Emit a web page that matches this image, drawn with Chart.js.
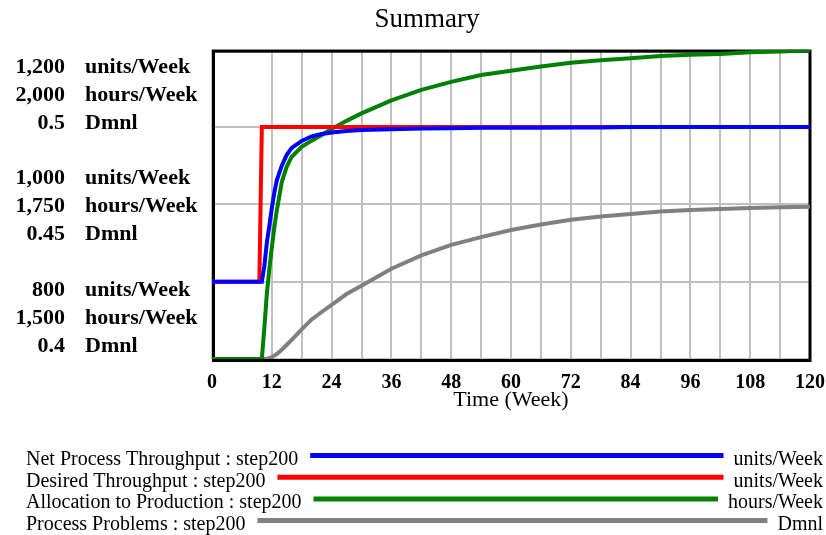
<!DOCTYPE html>
<html>
<head>
<meta charset="utf-8">
<title>Summary</title>
<script src="https://cdn.jsdelivr.net/npm/chart.js@4"></script>
<style>
  html, body { margin: 0; padding: 0; background: #fff; }
  #wrap { width: 826px; height: 535px; }
</style>
</head>
<body>
<div id="wrap"><canvas id="summaryChart" width="826" height="535"></canvas></div>
<script>
// time axis (weeks) and the four runs
const weeks = [0, 9.5, 9.75, 10, 10.5, 11, 11.5, 12, 12.5, 13, 14, 15, 16, 18, 20, 22, 24, 27, 30,
  36, 42, 48, 54, 60, 66, 72, 78, 84, 90, 96, 102, 108, 114, 120];
const netThroughput = [900, 900, 900, 900, 920, 950, 972, 995, 1015, 1031, 1050, 1064, 1073, 1082, 1088, 1091, 1093, 1095, 1096,
  1097, 1098, 1098.5, 1099, 1099, 1099.2, 1099.3, 1099.5, 1100, 1100, 1100, 1100, 1100, 1100, 1100];
const desiredThroughput = [900, 900, 1000, 1100, 1100, 1100, 1100, 1100, 1100, 1100, 1100, 1100, 1100, 1100, 1100, 1100, 1100, 1100, 1100,
  1100, 1100, 1100, 1100, 1100, 1100, 1100, 1100, 1100, 1100, 1100, 1100, 1100, 1100, 1100];
const allocation = [1500, 1500, 1500, 1500, 1550, 1605, 1645, 1680, 1712, 1740, 1786, 1811, 1827, 1843, 1853, 1862, 1872, 1885, 1897,
  1918, 1935, 1948, 1959, 1966, 1973, 1979, 1983, 1986, 1990, 1992, 1993, 1996, 1997, 1999];
const processProblems = [0.4, 0.4, 0.4, 0.4, 0.4, 0.4001, 0.4003, 0.4006, 0.4011, 0.4016, 0.403, 0.4046, 0.4062, 0.4096, 0.4128, 0.4152, 0.4175, 0.421, 0.4237,
  0.4292, 0.4335, 0.4369, 0.4394, 0.4417, 0.4435, 0.445, 0.4461, 0.4469, 0.4477, 0.4482, 0.4485, 0.4488, 0.4491, 0.4492];

const seriesNames = ['Net Process Throughput', 'Desired Throughput', 'Allocation to Production', 'Process Problems'];
const seriesUnits = ['units/Week', 'units/Week', 'hours/Week', 'Dmnl'];
const runName = 'step200';

// y labels: top, middle, bottom of each scale
const unitLabels = [1200, 1000, 800];
const hourLabels = [2000, 1750, 1500];
const dmnlLabels = [0.5, 0.45, 0.4];
const axisUnits = ['units/Week', 'hours/Week', 'Dmnl'];

const FONT = "'Liberation Serif', 'Times New Roman', serif";
Chart.defaults.font.family = FONT;
Chart.defaults.color = '#000';

function points(values) {
  return weeks.map((w, i) => ({ x: w, y: values[i] }));
}

const vensimDecor = {
  id: 'vensimDecor',
  beforeDatasetsDraw(chart) {
    const { ctx, chartArea: a } = chart;
    ctx.save();
    ctx.strokeStyle = '#000';
    ctx.lineWidth = 3;
    ctx.strokeRect(a.left + 1.5, a.top + 1.5, a.right - a.left - 1.5, a.bottom - a.top);
    ctx.restore();
  },
  afterDraw(chart) {
    const { ctx, chartArea: a } = chart;
    ctx.save();

    // stacked multi-scale labels on the left
    const groups = [unitLabels, hourLabels, dmnlLabels];
    const offsets = [17.5, -26, -69];
    ctx.font = 'bold 22px ' + FONT;
    ctx.fillStyle = '#000';
    ctx.textBaseline = 'middle';
    for (let g = 0; g < 3; g++) {
      for (let k = 0; k < 3; k++) {
        const y = chart.scales.y.getPixelForValue(unitLabels[g]) + offsets[g] + k * 28;
        ctx.textAlign = 'right';
        ctx.fillText(groups[k][g].toLocaleString('en-US'), a.left - 147, y);
        ctx.textAlign = 'left';
        ctx.fillText(axisUnits[k], a.left - 127, y);
      }
    }

    // legend rows under the plot
    ctx.font = '20px ' + FONT;
    ctx.textBaseline = 'alphabetic';
    const base = a.bottom + 106;
    chart.data.datasets.forEach((ds, i) => {
      const y = base + i * 21.7;
      const label = ds.label + ' : ' + runName;
      ctx.textAlign = 'left';
      ctx.fillText(label, 26, y);
      ctx.textAlign = 'right';
      ctx.fillText(seriesUnits[i], 823, y);
      const x0 = 26 + ctx.measureText(label).width + 12;
      const x1 = 823 - ctx.measureText(seriesUnits[i]).width - 10;
      ctx.strokeStyle = ds.borderColor;
      ctx.lineWidth = 5;
      ctx.beginPath();
      ctx.moveTo(x0, y - 9.5);
      ctx.lineTo(x1, y - 9.5);
      ctx.stroke();
    });
    ctx.restore();
  }
};

new Chart(document.getElementById('summaryChart'), {
  type: 'line',
  data: {
    datasets: [
      { label: seriesNames[0], data: points(netThroughput), borderColor: '#0000ff', yAxisID: 'y' },
      { label: seriesNames[1], data: points(desiredThroughput), borderColor: '#ff0000', yAxisID: 'y' },
      { label: seriesNames[2], data: points(allocation), borderColor: '#008000', yAxisID: 'yHours' },
      { label: seriesNames[3], data: points(processProblems), borderColor: '#808080', yAxisID: 'yDmnl' }
    ]
  },
  options: {
    responsive: false,
    animation: false,
    datasets: {
      line: { borderWidth: 4, pointRadius: 0, tension: 0, fill: false }
    },
    layout: { padding: { left: 44, right: 16, top: 0, bottom: 124 } },
    plugins: {
      legend: { display: false },
      tooltip: { enabled: false },
      title: {
        display: true,
        text: 'Summary',
        font: { size: 27, weight: 'normal', lineHeight: 1.1 },
        padding: { top: 5, bottom: 15 }
      }
    },
    scales: {
      x: {
        type: 'linear',
        min: 0,
        max: 120,
        border: { display: false },
        grid: {
          drawTicks: false,
          lineWidth: 2,
          color: c => (c.tick && c.tick.value === 6 ? 'rgba(0,0,0,0)' : '#c0c0c0')
        },
        ticks: {
          stepSize: 6,
          autoSkip: false,
          maxRotation: 0,
          padding: 14,
          font: { size: 20, weight: 'bold', lineHeight: 1 },
          callback: v => (v % 12 === 0 ? v : '')
        },
        title: {
          display: true,
          text: 'Time (Week)',
          font: { size: 22, weight: 'normal', lineHeight: 1 },
          padding: { top: 0, bottom: 0 }
        },
        afterFit: s => { s.height = 52; s.paddingLeft = 0; s.paddingRight = 0; }
      },
      y: {
        position: 'left',
        min: unitLabels[2],
        max: unitLabels[0],
        border: { display: false },
        grid: { drawTicks: false, lineWidth: 2, color: '#c0c0c0' },
        ticks: { stepSize: 100, display: false },
        afterFit: s => { s.width = 168; }
      },
      yHours: { display: false, min: hourLabels[2], max: hourLabels[0] },
      yDmnl: { display: false, min: dmnlLabels[2], max: dmnlLabels[0] }
    }
  },
  plugins: [vensimDecor]
});
</script>
</body>
</html>
